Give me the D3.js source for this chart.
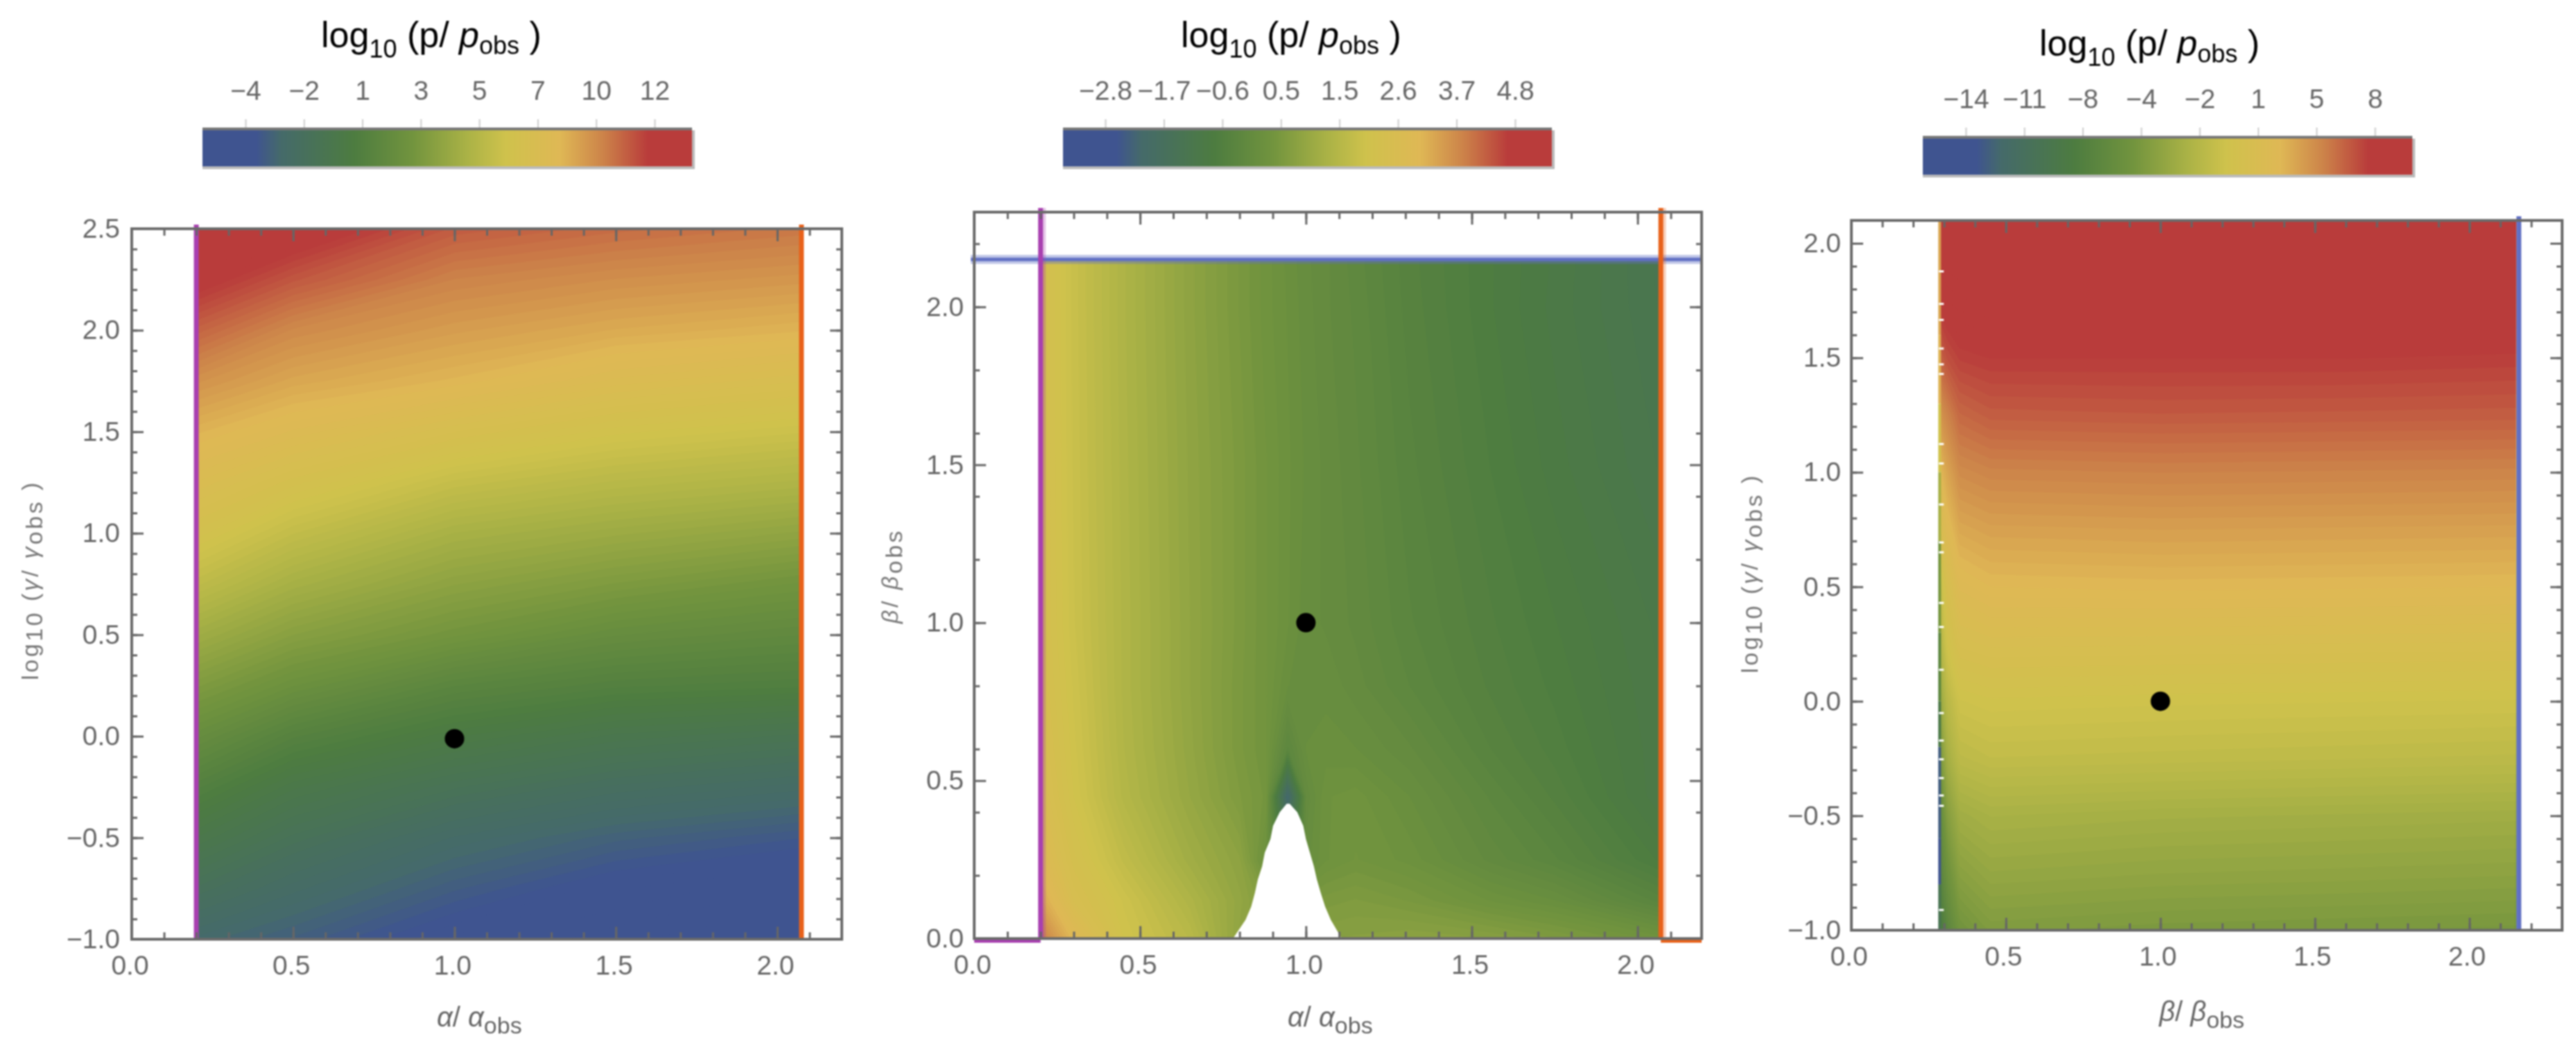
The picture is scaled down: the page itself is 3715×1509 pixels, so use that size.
<!doctype html>
<html lang="en">
<head>
  <meta charset="utf-8">
  <title>log10 (p/pobs) maps</title>
  <script src="https://d3js.org/d3.v7.min.js"></script>
  <style>
    html, body { margin: 0; padding: 0; background: #fff; }
    svg { display: block; }
    #all { filter: blur(0.8px); }
    text { font-family: "Liberation Sans", Arial, sans-serif; fill: #666; }
    .title { fill: #000; }
    .tick text { font-size: 39px; fill: #666; }
    .frameaxis .tick line { stroke: #666; stroke-width: 3px; }
    .baraxis .tick line { stroke: #ccc; stroke-width: 2px; }
    .domain { display: none; }
  </style>
</head>
<body>
<script>
  // colour map (position along bar, colour)
  var rampStops = [0, 0.11, 0.16, 0.31, 0.43, 0.54, 0.62, 0.73, 0.82, 0.91, 1];
  var rampColors = ["#3f5490", "#3f5490", "#456a6a", "#4d7c40", "#72943e", "#aab246", "#cfc24c", "#dfb855", "#cc8249", "#b93c3b", "#b93c3b"];

  // colour bar tick labels
  var barLabels1 = ["\u22124", "\u22122", "1", "3", "5", "7", "10", "12"];
  var barLabels2 = ["\u22122.8", "\u22121.7", "\u22120.6", "0.5", "1.5", "2.6", "3.7", "4.8"];
  var barLabels3 = ["\u221214", "\u221211", "\u22128", "\u22124", "\u22122", "1", "5", "8"];

  // panel 1: alpha vs log10 gamma
  var p1Alpha = [0.2, 0.5, 1, 1.5, 2.07];
  var p1Gamma = [-1, -0.75, -0.5, -0.25, 0, 0.25, 0.5, 0.75, 1, 1.25, 1.5, 1.75, 2, 2.25, 2.5];
  var p1Values = [
    [-2.5, -3.0, -3.9, -4.3, -4.6],
    [-1.44, -2.2, -3.1, -3.8, -4.2],
    [-0.38, -1.3, -2.3, -2.9, -3.3],
    [0.73, -0.32, -1.2, -1.8, -2.2],
    [1.94, 0.88, 0, -0.6, -0.95],
    [3.14, 2.24, 1.2, 0.72, 0.54],
    [4.34, 3.44, 2.62, 1.9, 1.54],
    [5.57, 4.58, 3.63, 3.07, 2.54],
    [6.66, 5.7, 4.64, 4.18, 3.74],
    [7.57, 6.8, 5.8, 5.3, 4.94],
    [8.5, 7.9, 7.08, 6.44, 6.06],
    [9.54, 8.9, 8.4, 7.7, 7.26],
    [10.8, 9.8, 9.2, 8.78, 8.48],
    [12.1, 11.1, 10, 9.65, 9.4],
    [13, 12.4, 11, 10.6, 10.3]
  ];

  // panel 2: alpha vs beta
  var p2Alpha = [0.2, 0.3, 0.45, 0.65, 0.8, 0.88, 0.945, 1, 1.06, 1.15, 1.31, 1.56, 1.75, 2.07];
  var p2Beta = [0, 0.12, 0.25, 0.45, 0.6, 0.8, 1, 1.5, 2, 2.2];
  var p2Values = [
    [3.9, 3.0, 2.1, 1.6, 0.85, 0.6, 0.6, 0.6, 0.7, 0.72, 0.78, 0.7, 0.55, 0.25],
    [3.3, 2.5, 2.0, 1.4, 0.9, 0.6, 0, 0.4, 0.5, 0.55, 0.45, 0.2, 0.05, -0.4],
    [2.9, 2.3, 1.75, 1.15, 0.8, 0.15, -1.2, 0, 0.2, 0.3, 0.18, -0.15, -0.35, -0.8],
    [2.65, 2.1, 1.5, 0.95, 0.55, 0.35, -2.2, -0.1, 0.2, 0.25, 0.05, -0.3, -0.55, -1.0],
    [2.55, 2.05, 1.45, 0.9, 0.48, 0.3, -0.3, 0.05, 0.08, 0.05, -0.1, -0.45, -0.65, -1.0],
    [2.45, 2.0, 1.42, 0.87, 0.48, 0.3, 0.05, 0, 0.02, -0.08, -0.28, -0.55, -0.72, -1.02],
    [2.4, 1.95, 1.42, 0.87, 0.5, 0.3, 0.14, 0, -0.05, -0.14, -0.35, -0.6, -0.77, -1.05],
    [2.4, 1.92, 1.4, 0.85, 0.5, 0.3, 0.15, 0.03, -0.06, -0.18, -0.42, -0.7, -0.9, -1.2],
    [2.4, 1.9, 1.38, 0.82, 0.45, 0.25, 0.12, 0, -0.1, -0.22, -0.48, -0.77, -0.97, -1.28],
    [2.4, 1.9, 1.38, 0.82, 0.45, 0.25, 0.1, -0.02, -0.1, -0.25, -0.5, -0.77, -0.95, -1.3]
  ];
  // white notch at the foot of panel 2
  var holeBeta = [0, 0.059, 0.101, 0.144, 0.187, 0.229, 0.272, 0.315, 0.357, 0.4, 0.427];
  var holeLeft = [0.78, 0.818, 0.835, 0.846, 0.855, 0.868, 0.876, 0.893, 0.901, 0.921, 0.942];
  var holeRight = [1.108, 1.075, 1.058, 1.045, 1.033, 1.024, 1.012, 1.0, 0.992, 0.974, 0.951];

  // panel 3: beta vs log10 gamma
  var p3Beta = [0.29, 0.31, 0.35, 0.45, 1, 1.6, 2.15];
  var p3Gamma = [-1, -0.75, -0.5, -0.25, 0, 0.25, 0.5, 0.75, 1, 1.25, 1.5, 1.75, 2.1];
  var p3Values = [
    [-8.5, -7, -5.2, -4.4, -4.6, -4.7, -4.8],
    [-7, -5.5, -3.9, -3.3, -3.5, -3.6, -3.7],
    [-6, -4.2, -2.7, -2.3, -2.5, -2.6, -2.7],
    [-4.5, -2.6, -1.2, -0.9, -1.0, -1.1, -1.2],
    [-3, -1.4, -0.2, 0, -0.1, -0.15, -0.2],
    [-1.6, 0, 1.1, 1.35, 1.3, 1.25, 1.2],
    [-0.6, 1.0, 2.3, 2.7, 2.8, 2.75, 2.7],
    [1.5, 2.4, 3.5, 3.8, 3.9, 3.85, 3.8],
    [2.8, 3.6, 4.7, 5.0, 5.1, 5.05, 5.0],
    [4.4, 5.0, 6.0, 6.4, 6.5, 6.45, 6.4],
    [6.3, 6.8, 7.3, 7.5, 7.5, 7.5, 7.4],
    [7.9, 8.2, 8.4, 8.5, 8.5, 8.5, 8.5],
    [9.5, 9.5, 9.5, 9.5, 9.5, 9.5, 9.5]
  ];
  // thin strip down the left edge of panel 3, and the white nicks in it
  var stripGamma = [2.1, 1.6, 1.3, 1, 0.7, 0.3, 0, -0.2, -0.6, -0.8, -1];
  var stripValues = [3.5, 3, 0, -2.5, -5, -7, -9, -13, -14, -10, -12];
  var stripGaps = [1.879, 1.737, 1.667, 1.542, 1.473, 1.431, 1.125, 1.04, 0.861, 0.695, 0.652, 0.431, 0.326, 0.139, -0.05, -0.17, -0.252, -0.334, -0.41, -0.455, -0.91];

  var magenta = "#a83fb0", orange = "#e8611a", blue = "#6170c4";

  var panels = [
    {
      box: [190, 1214, 330, 1355], xDomain: [0, 2.2], yDomain: [-1, 2.5],
      xs: p1Alpha, ys: p1Gamma, values: p1Values, range: [-5.56, 13.47],
      fieldX: [0.2, 2.075], fieldY: [-1, 2.5], dot: [1, -0.012],
      walls: [{ v: 0.2, c: magenta }, { v: 2.075, c: orange }],
      bar: { x0: 292, x1: 998, y: 188, ticks: [354, 944], labels: barLabels1 },
      titleX: 463, titleY: 68, xLabel: ["\u03b1", "/ ", "\u03b1"], xLabelX: 630, xLabelY: 1481,
      yLabel: "gamma", yLabelX: 55, yLabelC: 837, padY: 17, shiftX: -3
    },
    {
      box: [1405, 2454, 306, 1354], xDomain: [0, 2.193], yDomain: [0, 2.3],
      xs: p2Alpha, ys: p2Beta, values: p2Values, range: [-3.57, 5.47],
      fieldX: [0.2, 2.07], fieldY: [0, 2.15], dot: [1, 1],
      walls: [{ v: 0.2, c: magenta }, { v: 2.07, c: orange }], halo: true,
      bar: { x0: 1533, x1: 2238, y: 188, ticks: [1594, 2185], labels: barLabels2 },
      titleX: 1703, titleY: 68, xLabel: ["\u03b1", "/ ", "\u03b1"], xLabelX: 1857, xLabelY: 1481,
      yLabel: "beta", yLabelX: 1295, yLabelC: 831, padY: 15, shiftX: -3
    },
    {
      box: [2670, 3695, 318, 1342], xDomain: [0, 2.3], yDomain: [-1, 2.1],
      xs: p3Beta, ys: p3Gamma, values: p3Values, range: [-16.42, 9.87],
      fieldX: [0.29, 2.15], fieldY: [-1, 2.1], dot: [1, 0],
      walls: [{ v: 2.16, c: blue }],
      bar: { x0: 2773, x1: 3479, y: 200, ticks: [2835, 3425], labels: barLabels3 },
      titleX: 2941, titleY: 80, xLabel: ["\u03b2", "/ ", "\u03b2"], xLabelX: 3114, xLabelY: 1473,
      yLabel: "gamma", yLabelX: 2535, yLabelC: 827, padY: 15, shiftX: -4
    }
  ];

  var svgRoot = d3.select("body").append("svg").attr("width", 3715).attr("height", 1509);
  var defs = svgRoot.append("defs");
  var svg = svgRoot.append("g").attr("id", "all");

  var ramp = d3.scaleLinear().domain(rampStops).range(rampColors);

  defs.append("linearGradient").attr("id", "ramp")
    .selectAll("stop").data(rampStops).enter().append("stop")
    .attr("offset", function(d) { return d; })
    .attr("stop-color", function(d, i) { return rampColors[i]; });

  panels.forEach(function(p, idx) {
    var x = d3.scaleLinear().domain(p.xDomain).range([p.box[0], p.box[1]]);
    var y = d3.scaleLinear().domain(p.yDomain).range([p.box[3], p.box[2]]);
    var toFrac = d3.scaleLinear().domain(p.range).range([0, 1]);
    var g = svg.append("g");

    // field, as many filled contour bands
    var clipId = "clip" + idx;
    defs.append("clipPath").attr("id", clipId).append("rect")
      .attr("x", x(p.fieldX[0])).attr("y", y(p.fieldY[1]))
      .attr("width", x(p.fieldX[1]) - x(p.fieldX[0]))
      .attr("height", y(p.fieldY[0]) - y(p.fieldY[1]));

    var step = (p.range[1] - p.range[0]) / 110;
    var levels = d3.range(p.range[0], p.range[1], step);
    var contours = d3.contours().size([p.xs.length, p.ys.length]).thresholds(levels)(d3.merge(p.values));
    var gx = d3.scaleLinear().domain(p.xs.map(function(d, i) { return i + 0.5; })).range(p.xs.map(x));
    var gy = d3.scaleLinear().domain(p.ys.map(function(d, i) { return i + 0.5; })).range(p.ys.map(y));
    var path = d3.geoPath(d3.geoTransform({
      point: function(a, b) { this.stream.point(gx(a), gy(b)); }
    }));

    g.append("g").attr("clip-path", "url(#" + clipId + ")")
      .selectAll("path").data(contours).enter().append("path")
      .attr("d", path)
      .attr("fill", function(d) { return ramp(toFrac(d.value + step / 2)); });

    if (idx === 1) {
      var holeArea = d3.area()
        .y(function(d) { return y(d); })
        .x0(function(d, i) { return x(holeLeft[i]); })
        .x1(function(d, i) { return x(holeRight[i]); });
      g.append("path").datum(holeBeta).attr("d", holeArea).attr("fill", "#fff");

      // horizontal boundary at the top and short ones on the axis
      g.append("line").attr("x1", x.range()[0] - 5).attr("x2", x.range()[1] + 2)
        .attr("y1", y(2.15)).attr("y2", y(2.15))
        .attr("stroke", blue).attr("stroke-opacity", 0.4).attr("stroke-width", 13);
      g.append("line").attr("x1", x.range()[0] - 5).attr("x2", x.range()[1] + 2)
        .attr("y1", y(2.15)).attr("y2", y(2.15))
        .attr("stroke", blue).attr("stroke-width", 5);
      g.append("line").attr("x1", x(0)).attr("x2", x(0.2)).attr("y1", y(0) + 4).attr("y2", y(0) + 4)
        .attr("stroke", magenta).attr("stroke-width", 4);
      g.append("line").attr("x1", x(2.07)).attr("x2", x(2.193)).attr("y1", y(0) + 4).attr("y2", y(0) + 4)
        .attr("stroke", orange).attr("stroke-width", 4);
    }

    if (idx === 2) {
      g.selectAll(".strip").data(d3.pairs(stripGamma)).enter().append("rect")
        .attr("x", x(0.29) - 4).attr("width", 4)
        .attr("y", function(d) { return y(d[0]); })
        .attr("height", function(d) { return y(d[1]) - y(d[0]); })
        .attr("fill", function(d, i) { return ramp(toFrac(stripValues[i])); });
      g.selectAll(".gap").data(stripGaps).enter().append("rect")
        .attr("x", x(0.29) - 3).attr("width", 7).attr("height", 3)
        .attr("y", function(d) { return y(d) - 1; })
        .attr("fill", "#fff");
    }

    // vertical boundaries
    if (p.halo) {
      g.selectAll(".halo").data(p.walls).enter().append("line")
        .attr("x1", function(d) { return x(d.v) + 3; }).attr("x2", function(d) { return x(d.v) + 3; })
        .attr("y1", p.box[2] - 6).attr("y2", p.box[3])
        .attr("stroke", function(d) { return d.c; }).attr("stroke-opacity", 0.3).attr("stroke-width", 9);
    }
    g.selectAll(".wall").data(p.walls).enter().append("line")
      .attr("x1", function(d) { return x(d.v); }).attr("x2", function(d) { return x(d.v); })
      .attr("y1", p.box[2] - 6).attr("y2", p.box[3])
      .attr("stroke", function(d) { return d.c; }).attr("stroke-width", 7);

    // frame ticks, long ones with labels and short ones without
    var fmt = d3.format(".1f");
    var xMajor = d3.range(0, p.xDomain[1] + 0.001, 0.5);
    var xMinor = d3.range(0, p.xDomain[1] + 0.001, 0.1);
    var yMajor = d3.range(p.yDomain[0], p.yDomain[1] + 0.001, 0.5);
    var yMinor = d3.range(p.yDomain[0], p.yDomain[1] + 0.001, 0.1);
    if (idx === 1) yMinor = yMinor.filter(function(d, i) { return i % 2 === 0; });

    function axisLayer(axis, tx, ty) {
      return g.append("g").attr("class", "frameaxis")
        .attr("transform", "translate(" + tx + "," + ty + ")").call(axis);
    }
    axisLayer(d3.axisBottom(x).tickValues(xMinor).tickSize(-10).tickFormat(""), 0, p.box[3]);
    axisLayer(d3.axisTop(x).tickValues(xMinor).tickSize(-10).tickFormat(""), 0, p.box[2]);
    axisLayer(d3.axisLeft(y).tickValues(yMinor).tickSize(-8).tickFormat(""), p.box[0], 0);
    axisLayer(d3.axisRight(y).tickValues(yMinor).tickSize(-8).tickFormat(""), p.box[1], 0);
    axisLayer(d3.axisTop(x).tickValues(xMajor).tickSize(-18).tickFormat(""), 0, p.box[2]);
    axisLayer(d3.axisRight(y).tickValues(yMajor).tickSize(-17).tickFormat(""), p.box[1], 0);
    axisLayer(d3.axisBottom(x).tickValues(xMajor).tickSize(-18).tickPadding(23).tickFormat(fmt), 0, p.box[3])
      .selectAll("text").attr("dx", p.shiftX);
    axisLayer(d3.axisLeft(y).tickValues(yMajor).tickSize(-17).tickPadding(p.padY).tickFormat(fmt), p.box[0], 0);

    g.append("rect").attr("x", p.box[0]).attr("y", p.box[2])
      .attr("width", p.box[1] - p.box[0]).attr("height", p.box[3] - p.box[2])
      .attr("fill", "none").attr("stroke", "#6a6a6a").attr("stroke-width", 4);

    // observed point
    g.append("circle").attr("cx", x(p.dot[0])).attr("cy", y(p.dot[1])).attr("r", 14).attr("fill", "#000");

    // colour bar
    var b = p.bar;
    var bar = svg.append("g");
    bar.append("rect").attr("x", b.x0).attr("y", b.y + 52).attr("width", b.x1 - b.x0 + 4).attr("height", 4).attr("fill", "#bbb");
    bar.append("rect").attr("x", b.x1).attr("y", b.y).attr("width", 4).attr("height", 54).attr("fill", "#bbb");
    bar.append("rect").attr("x", b.x0).attr("y", b.y - 4).attr("width", b.x1 - b.x0).attr("height", 4).attr("fill", "#777");
    bar.append("rect").attr("x", b.x0).attr("y", b.y).attr("width", b.x1 - b.x0).attr("height", 52).attr("fill", "url(#ramp)");
    var barScale = d3.scalePoint().domain(b.labels).range(b.ticks);
    bar.append("g").attr("class", "baraxis").attr("transform", "translate(0," + (b.y - 4) + ")")
      .call(d3.axisTop(barScale).tickSize(12).tickPadding(28));

    // title
    var t = svg.append("text").attr("class", "title").attr("x", p.titleX).attr("y", p.titleY).style("font-size", "52px");
    t.append("tspan").text("log");
    t.append("tspan").attr("dy", 15).style("font-size", "36px").text("10");
    t.append("tspan").attr("dy", -15).text(" (p/ ");
    t.append("tspan").style("font-style", "italic").text("p");
    t.append("tspan").attr("dy", 10).style("font-size", "36px").text("obs");
    t.append("tspan").attr("dy", -10).text(" )");

    // x label
    var xl = svg.append("text").attr("x", p.xLabelX).attr("y", p.xLabelY).style("font-size", "40px");
    xl.append("tspan").style("font-style", "italic").text(p.xLabel[0]);
    xl.append("tspan").text(p.xLabel[1]);
    xl.append("tspan").style("font-style", "italic").text(p.xLabel[2]);
    xl.append("tspan").attr("dy", 10).style("font-size", "34px").text("obs");

    // y label
    var yl = svg.append("text").attr("text-anchor", "middle")
      .attr("transform", "translate(" + p.yLabelX + "," + p.yLabelC + ") rotate(-90)")
      .style("font-size", "34px").style("letter-spacing", "3.5px").style("fill", "#777");
    if (p.yLabel === "gamma") {
      yl.append("tspan").text("log");
      yl.append("tspan").attr("dy", 6).text("10");
      yl.append("tspan").attr("dy", -6).text(" (");
      yl.append("tspan").style("font-style", "italic").text("\u03b3");
      yl.append("tspan").text("/ ");
      yl.append("tspan").style("font-style", "italic").text("\u03b3");
      yl.append("tspan").attr("dy", 6).text("obs");
      yl.append("tspan").attr("dy", -6).text(" )");
    } else {
      yl.append("tspan").style("font-style", "italic").text("\u03b2");
      yl.append("tspan").text("/ ");
      yl.append("tspan").style("font-style", "italic").text("\u03b2");
      yl.append("tspan").attr("dy", 6).text("obs");
    }
  });
</script>
</body>
</html>
